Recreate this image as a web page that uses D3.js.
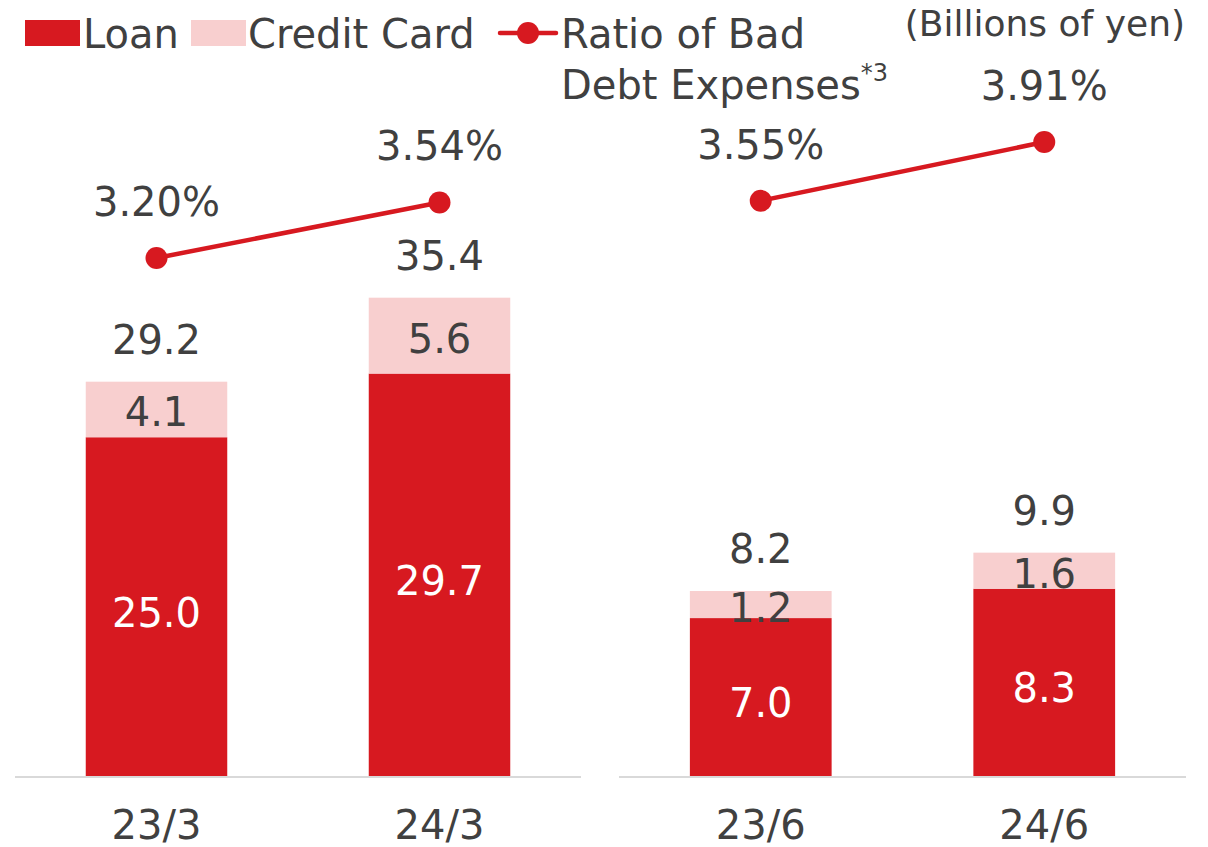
<!DOCTYPE html>
<html>
<head>
<meta charset="utf-8">
<script src="https://cdn.jsdelivr.net/npm/d3@7.9.0/dist/d3.min.js"></script>
<style>
  body { margin: 0; background: #fff; }
  svg text { font-family: "DejaVu Sans", Verdana, sans-serif; fill: #404040; }
</style>
</head>
<body>
<svg id="chart" width="1208" height="847"></svg>
<script>
// values
const categories = ["23/3", "24/3", "23/6", "24/6"];
const loan = [25.0, 29.7, 7.0, 8.3];
const creditCard = [4.1, 5.6, 1.2, 1.6];
const totals = ["29.2", "35.4", "8.2", "9.9"];
const ratio = [3.20, 3.54, 3.55, 3.91];
const panels = [[0, 1], [2, 3]];

const red = "#d71920", pink = "#f8cfcf";

const svg = d3.select("#chart");
const baseY = 776;

// each panel has its own bar scale; the ratio line shares one scale
const panelSetup = [
  { x0: 15, x1: 581, y: d3.scaleLinear().domain([0, 40]).range([baseY, baseY - 542]) },
  { x0: 619, x1: 1186, y: d3.scaleLinear().domain([0, 10]).range([baseY, baseY - 225.6]) }
];
const yRatio = d3.scaleLinear().domain([3.2, 3.91]).range([258, 142]);

panels.forEach((idxs, p) => {
  const cfg = panelSetup[p];
  const x = d3.scaleBand()
    .domain(idxs.map(i => categories[i]))
    .range([cfg.x0, cfg.x1])
    .paddingInner(0.5)
    .paddingOuter(0.25);
  const y = cfg.y;
  const g = svg.append("g");

  // baseline
  g.append("line")
    .attr("x1", cfg.x0).attr("x2", cfg.x1)
    .attr("y1", baseY + 1).attr("y2", baseY + 1)
    .attr("stroke", "#d9d9d9").attr("stroke-width", 2);

  idxs.forEach(i => {
    const cx = x(categories[i]) + x.bandwidth() / 2;
    // loan
    g.append("rect")
      .attr("x", x(categories[i])).attr("width", x.bandwidth())
      .attr("y", y(loan[i])).attr("height", y(0) - y(loan[i]))
      .attr("fill", red);
    // credit card
    g.append("rect")
      .attr("x", x(categories[i])).attr("width", x.bandwidth())
      .attr("y", y(loan[i] + creditCard[i])).attr("height", y(loan[i]) - y(loan[i] + creditCard[i]))
      .attr("fill", pink);

    g.append("text")
      .attr("x", cx).attr("y", (y(0) + y(loan[i])) / 2 + 6)
      .attr("text-anchor", "middle").attr("dominant-baseline", "central")
      .attr("font-size", 40).style("fill", "#fff")
      .text(loan[i].toFixed(1));
    g.append("text")
      .attr("x", cx).attr("y", (y(loan[i]) + y(loan[i] + creditCard[i])) / 2 + 3)
      .attr("text-anchor", "middle").attr("dominant-baseline", "central")
      .attr("font-size", 40)
      .text(creditCard[i].toFixed(1));
    g.append("text")
      .attr("x", cx).attr("y", y(loan[i] + creditCard[i]) - 42)
      .attr("text-anchor", "middle").attr("dominant-baseline", "central")
      .attr("font-size", 40)
      .text(totals[i]);
    // category label
    g.append("text")
      .attr("x", cx).attr("y", 825)
      .attr("text-anchor", "middle").attr("dominant-baseline", "central")
      .attr("font-size", 40)
      .text(categories[i]);
  });

  // ratio line
  const pts = idxs.map(i => [x(categories[i]) + x.bandwidth() / 2, yRatio(ratio[i])]);
  g.append("path")
    .attr("d", d3.line()(pts))
    .attr("fill", "none").attr("stroke", red).attr("stroke-width", 4.5);
  g.selectAll("circle.pt").data(pts).join("circle")
    .attr("cx", d => d[0]).attr("cy", d => d[1]).attr("r", 11)
    .attr("fill", red);
  idxs.forEach((i, k) => {
    g.append("text")
      .attr("x", pts[k][0]).attr("y", pts[k][1] - 56)
      .attr("text-anchor", "middle").attr("dominant-baseline", "central")
      .attr("font-size", 40)
      .text(ratio[i].toFixed(2) + "%");
  });
});

// legend
const lg = svg.append("g");
lg.append("rect").attr("x", 25).attr("y", 20).attr("width", 55).attr("height", 26).attr("fill", red);
lg.append("text").attr("x", 83).attr("y", 48).attr("font-size", 40).text("Loan");
lg.append("rect").attr("x", 191).attr("y", 20).attr("width", 55).attr("height", 26).attr("fill", pink);
lg.append("text").attr("x", 248).attr("y", 48).attr("font-size", 40).text("Credit Card");
lg.append("line").attr("x1", 500).attr("x2", 556).attr("y1", 33).attr("y2", 33)
  .attr("stroke", red).attr("stroke-width", 4.5).attr("stroke-linecap", "round");
lg.append("circle").attr("cx", 528).attr("cy", 33).attr("r", 11).attr("fill", red);
lg.append("text").attr("x", 561).attr("y", 48).attr("font-size", 40).text("Ratio of Bad");
const t2 = lg.append("text").attr("x", 561).attr("y", 99).attr("font-size", 40);
t2.append("tspan").text("Debt Expenses");
t2.append("tspan").attr("font-size", 24).attr("dy", -18).text("*3");

svg.append("text").attr("x", 1185).attr("y", 36).attr("text-anchor", "end")
  .attr("font-size", 36).text("(Billions of yen)");
</script>
</body>
</html>
